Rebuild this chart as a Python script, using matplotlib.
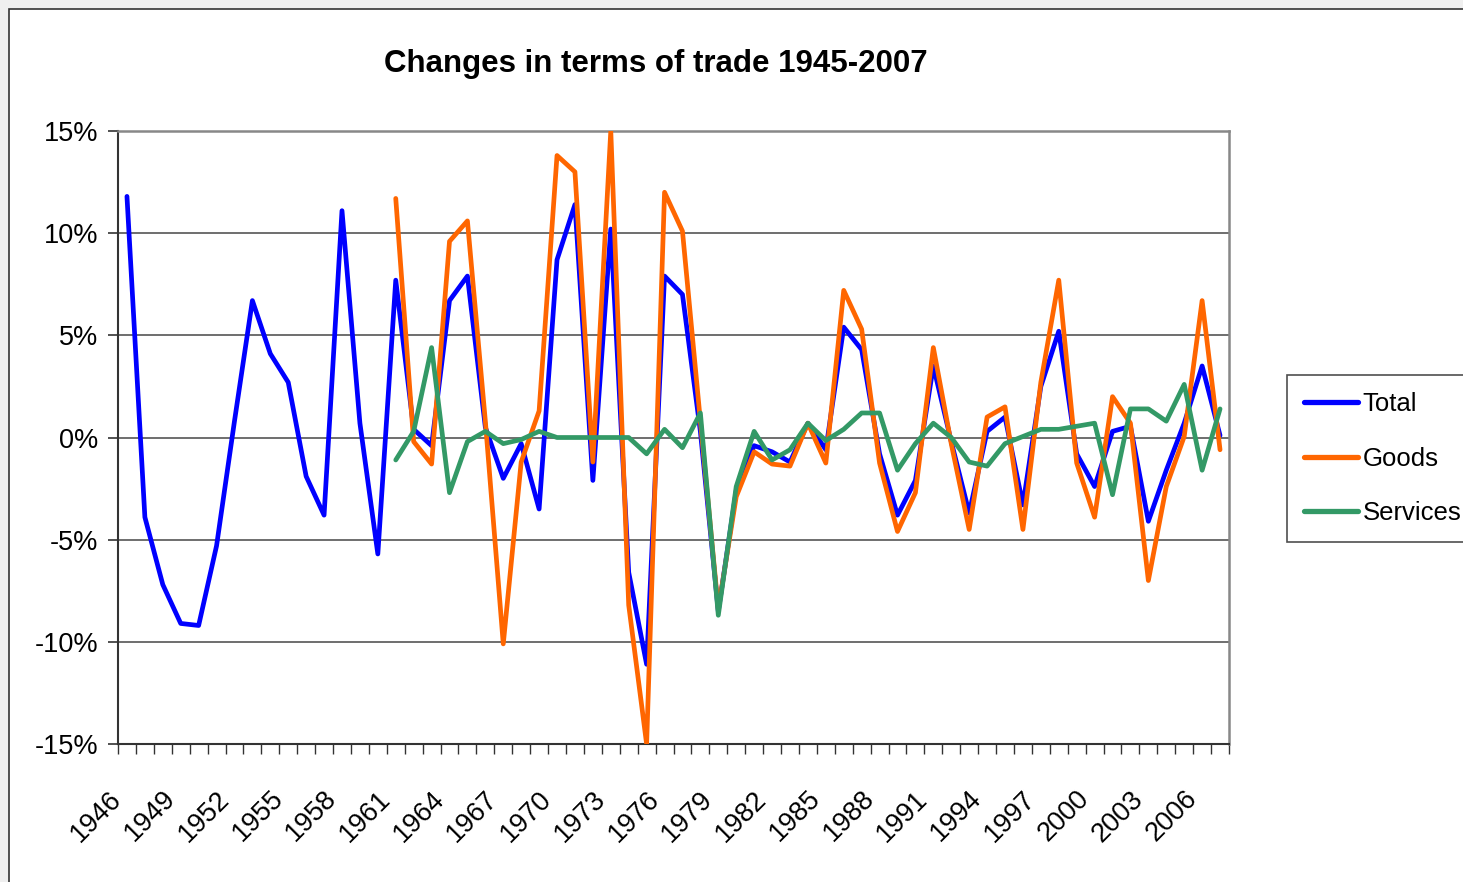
import numpy as np
import matplotlib
matplotlib.use('Agg')
import matplotlib.pyplot as plt
from matplotlib.patches import Rectangle
from matplotlib.ticker import FixedLocator, FuncFormatter

plt.rcParams['font.family'] = ['Liberation Sans Narrow', 'Liberation Sans', 'DejaVu Sans']

years = list(range(1946, 2008))

# percent changes
total = [11.8, -3.9, -7.2, -9.1, -9.2, -5.3, 0.8, 6.7, 4.1, 2.7,
         -1.9, -3.8, 11.1, 0.7, -5.7, 7.7, 0.4, -0.4, 6.7, 7.9,
         0.5, -2.0, -0.3, -3.5, 8.7, 11.4, -2.1, 10.2, -6.6, -11.1,
         7.9, 7.0, 0.3, -8.5, -2.6, -0.4, -0.7, -1.2, 0.7, -0.6,
         5.4, 4.3, -0.8, -3.8, -2.1, 3.5, -0.2, -3.7, 0.3, 1.0,
         -3.3, 2.5, 5.2, -0.8, -2.4, 0.3, 0.55, -4.1, -1.6, 0.7,
         3.5, 0.1]

# goods and services start in 1961
goods_start = 1961
goods = [11.7, -0.2, -1.3, 9.6, 10.6, 0.8, -10.1, -1.2, 1.3, 13.8,
         13.0, -1.2, 15.0, -8.2, -15.0, 12.0, 10.1, 0.8, -8.4, -2.9,
         -0.7, -1.3, -1.4, 0.7, -1.25, 7.2, 5.3, -1.25, -4.6, -2.7,
         4.4, -0.3, -4.5, 1.0, 1.5, -4.5, 2.7, 7.7, -1.25, -3.9,
         2.0, 0.7, -7.0, -2.4, 0.05, 6.7, -0.6]
services = [-1.1, 0.3, 4.4, -2.7, -0.2, 0.3, -0.3, -0.1, 0.3, 0.0,
            0.0, 0.0, 0.0, 0.0, -0.8, 0.4, -0.5, 1.2, -8.7, -2.4,
            0.3, -1.1, -0.6, 0.7, -0.15, 0.4, 1.2, 1.2, -1.6, -0.3,
            0.7, 0.0, -1.2, -1.4, -0.3, 0.05, 0.4, 0.4, 0.55, 0.7,
            -2.8, 1.4, 1.4, 0.8, 2.6, -1.6, 1.4]

W, H = 1463, 882
fig = plt.figure(figsize=(W / 100, H / 100), dpi=100, facecolor='#efefef')

# chart area (white box with dark border, cut off on the right and bottom)
fig.patches.append(Rectangle((9 / W, -0.05), 1.1, 1 - 9 / H + 0.05,
                             transform=fig.transFigure, facecolor='white',
                             edgecolor='#333333', linewidth=1.2, zorder=-10))

ax = fig.add_axes([118 / W, 1 - 744 / H, (1229 - 118) / W, (744 - 131) / H])
ax.set_facecolor('white')

x = np.arange(len(years))
xs = x[years.index(goods_start):]

lw = 3.4
ax.plot(x, total, color='#0000ff', lw=lw, label='Total',
        solid_joinstyle='round', solid_capstyle='round', zorder=3)
ax.plot(xs, goods, color='#ff6600', lw=lw, label='Goods',
        solid_joinstyle='round', solid_capstyle='round', zorder=4)
ax.plot(xs, services, color='#339966', lw=lw, label='Services',
        solid_joinstyle='round', solid_capstyle='round', zorder=5)

ax.set_xlim(-0.5, len(years) - 0.5)
ax.set_ylim(-15, 15)

# y axis
ax.set_yticks(np.arange(-15, 16, 5))
ax.yaxis.set_major_formatter(FuncFormatter(lambda v, p: '%d%%' % v))
ax.grid(axis='y', color='#555555', linewidth=1.2)
ax.set_axisbelow(True)
ax.tick_params(axis='y', direction='out', length=7, width=1.2, color='#333333',
               labelsize=19.5, pad=7)

# x axis: labels every 3 years, tick marks between categories
ax.xaxis.set_major_locator(FixedLocator(x[::3]))
ax.set_xticklabels([str(y) for y in years[::3]], rotation=45, ha='right', va='top')
ax.xaxis.set_minor_locator(FixedLocator(np.arange(-0.5, len(years), 1)))
ax.tick_params(axis='x', which='major', length=0, labelsize=19.5, pad=30)
ax.tick_params(axis='x', which='minor', direction='out', length=7, width=1.0,
               color='#333333')

for s in ['top', 'right']:
    ax.spines[s].set_color('#888888')
    ax.spines[s].set_linewidth(1.8)
for s in ['left', 'bottom']:
    ax.spines[s].set_color('#333333')
    ax.spines[s].set_linewidth(1.5)

fig.text(656 / W, 1 - 64 / H, 'Changes in terms of trade 1945-2007',
         ha='center', va='center', fontsize=22.5, fontweight='bold')

leg = fig.legend(loc='upper left', bbox_to_anchor=(1287 / W, 1 - 375 / H),
                 fontsize=18.5, frameon=True, fancybox=False, edgecolor='#222222',
                 handlelength=2.1, handletextpad=0.2, labelspacing=1.2,
                 borderpad=0.65, borderaxespad=0, handleheight=0.7)
leg.get_frame().set_linewidth(1.2)
for ln in leg.get_lines():
    ln.set_linewidth(3.8)

fig.savefig('out.png', dpi=100, facecolor=fig.get_facecolor())
